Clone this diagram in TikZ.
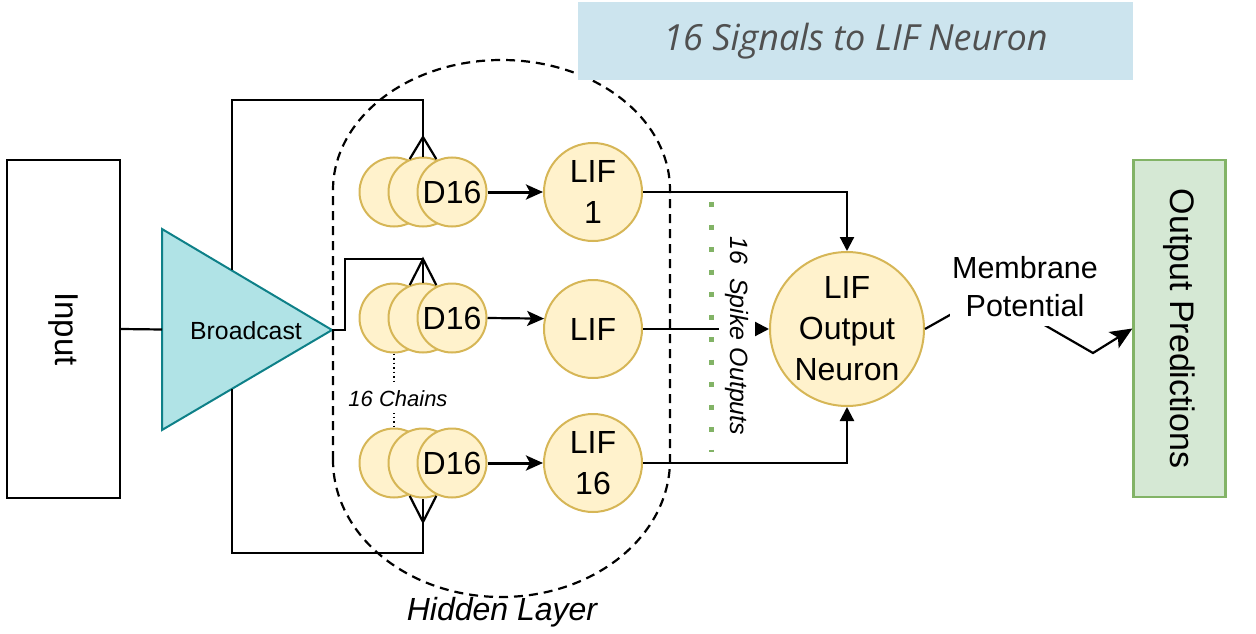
\documentclass[tikz,border=0pt]{standalone}
\usepackage{fontspec}
\setmainfont{Liberation Sans}
\newfontfamily\bannerfont{Open Sans}
\usetikzlibrary{arrows.meta,calc}

\definecolor{neuronfill}{HTML}{FFF2CC}
\definecolor{neuronline}{HTML}{D6B656}
\definecolor{bcfill}{HTML}{B0E3E6}
\definecolor{bcline}{HTML}{0E8088}
\definecolor{predfill}{HTML}{D5E8D4}
\definecolor{predline}{HTML}{82B366}
\definecolor{bannerfill}{HTML}{CCE4EE}
\definecolor{bannertext}{HTML}{505050}

\newcommand{\fsmain}{\fontsize{32}{41}\selectfont}

\tikzset{
  wire/.style={line width=2.2pt},
  feed/.style={line width=3pt, -{Stealth[length=17pt,width=15pt,inset=4pt]}},
  intoout/.style={line width=2.2pt, -{Triangle[length=14pt,width=14pt]}},
  delay/.style={circle, draw=neuronline, fill=neuronfill, line width=2pt,
    minimum size=69pt, inner sep=0pt, font=\fsmain},
  lif/.style={circle, draw=neuronline, fill=neuronfill, line width=2pt,
    minimum size=98pt, inner sep=0pt, align=center, font=\fsmain},
  outline/.style={draw=black, line width=2.2pt, inner sep=0pt},
  hidden/.style={line width=2.2pt, dash pattern=on 9pt off 6pt},
  chain/.style={line width=2pt, dash pattern=on 1.5pt off 3pt},
  spikes/.style={draw=predline, line width=5pt, dash pattern=on 5pt off 17.5pt},
  banner/.style={rectangle, fill=bannerfill, minimum width=555pt, minimum height=78pt,
    inner sep=0pt, text=bannertext, font=\bannerfont\itshape\fontsize{36}{40}\selectfont}
}

\begin{document}
\begin{tikzpicture}[x=1pt,y=-1pt]
\useasboundingbox (0,0) rectangle (1256,634);

% hidden layer outline
\draw[hidden] (333,460) -- (333,190)
  arc[start angle=180, end angle=0, x radius=168.5pt, y radius=130pt]
  -- (670,460)
  arc[start angle=0, end angle=-180, x radius=168.5pt, y radius=137pt] -- cycle;
\node[font=\itshape\fontsize{32}{38}\selectfont] (hl) at (502,612) {Hidden Layer};

% banner
\node[banner] (title) at (855.5,41) {16 Signals to LIF Neuron};

% input block
\node[outline, minimum width=113pt, minimum height=338pt] (input) at (63.5,329) {};
\node[rotate=-90, font=\fontsize{33}{40}\selectfont] (inputtext) at (input.center) {Input};

% broadcast triangle
\coordinate (ta) at (162,229);
\coordinate (tb) at (162,430);
\coordinate (tc) at (332,330);
\filldraw[fill=bcfill, draw=bcline, line width=2pt, line join=miter] (ta) -- (tc) -- (tb) -- cycle;
\node[font=\fontsize{24.8}{30}\selectfont] (bc) at (246,331) {Broadcast};
\coordinate (tin) at ($(ta)!0.5!(tb)$);
\coordinate (ttop) at ($(ta)!0.41!(tc)$);
\coordinate (tbot) at ($(tb)!0.41!(tc)$);

\draw[wire] (input.east) -- (tin);

% delay chains
\node[delay] (d1a) at (394,192) {};
\node[delay] (d1b) at (423,192) {};
\node[delay] (d1c) at (452,192) {D16};
\node[delay] (d2a) at (394,318) {};
\node[delay] (d2b) at (423,318) {};
\node[delay] (d2c) at (452,318) {D16};
\node[delay] (d3a) at (394,463) {};
\node[delay] (d3b) at (423,463) {};
\node[delay] (d3c) at (452,463) {D16};

% hidden LIF neurons
\node[lif] (l1) at (593,192) {LIF\\1};
\node[lif] (l2) at (593,329) {LIF};
\node[lif] (l3) at (593,463) {LIF\\16};

% output neuron
\node[lif, minimum size=154pt] (out) at (847,329) {LIF\\Output\\Neuron};

% predictions block
\node[outline, draw=predline, fill=predfill, minimum width=92pt, minimum height=337pt] (pred) at (1179.5,328.5) {};
\node[rotate=-90, font=\fontsize{34}{40}\selectfont] (predtext) at (pred.center) {Output Predictions};

% broadcast taps with fan-in feet
\coordinate (f1) at (423,137);
\coordinate (topbend) at (423,100);
\draw[wire] (ttop) |- (topbend) -- (f1);
\draw[wire] (d1b.112) -- (f1) -- (d1b.68);
\draw[wire] (f1) -- (d1b.north);

\coordinate (f2) at (423,259);
\draw[wire] (tc) -- ++(13,0) |- (f2);
\draw[wire] (d2b.112) -- (f2) -- (d2b.68);
\draw[wire] (f2) -- (d2b.north);

\coordinate (f3) at (423,522);
\coordinate (botbend) at (423,553);
\draw[wire] (tbot) |- (botbend) -- (f3);
\draw[wire] (d3b.-112) -- (f3) -- (d3b.-68);
\draw[wire] (f3) -- (d3b.south);

% chain count marker
\draw[chain] (d2a.south) -- (d3a.north);
\node[fill=white, inner xsep=1pt, inner ysep=6pt, font=\itshape\fontsize{22}{26}\selectfont] (chains) at (398,399) {16 Chains};

% delays into LIF neurons
\draw[feed] (d1c.east) -- (l1.west);
\draw[feed, line width=2.2pt] (d2c.east) -- (l2.168);
\draw[feed] (d3c.east) -- (l3.west);

% spike outputs into output neuron
\coordinate (sp1) at (711,202);
\coordinate (sp2) at (711,452);
\draw[spikes] (sp1) -- (sp2);
\draw[intoout] (l1.east) -| (out.north);
\draw[intoout] (l3.east) -| (out.south);
\draw[intoout] (l2.east) -- (out.west);
\node[rotate=-90, fill=white, inner xsep=2pt, inner ysep=6pt, font=\itshape\fontsize{25}{30}\selectfont] (spk) at (737,336) {16\hspace{0.55em}Spike Outputs};

% membrane potential to predictions
\coordinate (mb1) at (989,293);
\coordinate (mb2) at (1093,353);
\draw[wire, -{Stealth[length=22pt,width=19pt,inset=5pt]}] (out.east) -- (mb1) -- (mb2) -- (pred.west);
\node[fill=white, align=center, inner xsep=2pt, inner ysep=9pt, font=\fontsize{30.5}{38}\selectfont] (mp) at (1025,287) {Membrane\\Potential};
\end{tikzpicture}
\end{document}
